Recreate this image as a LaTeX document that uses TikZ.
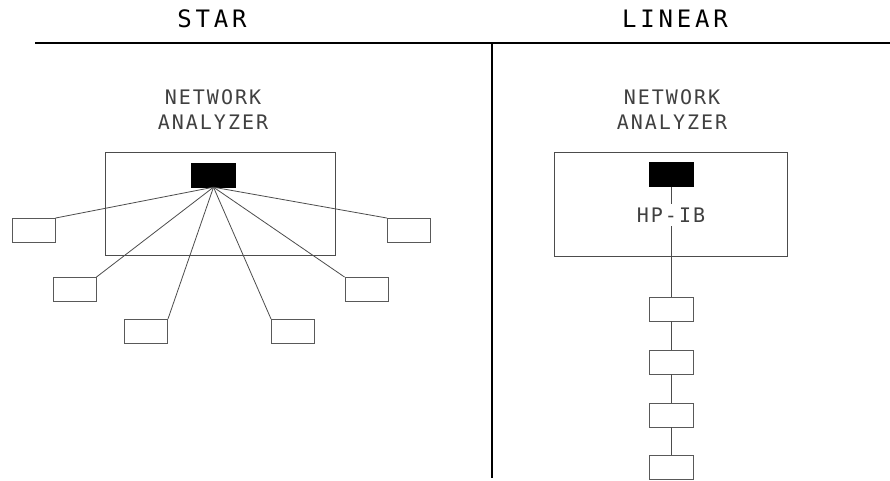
\documentclass[tikz,border=0pt]{standalone}
\usepackage{fontspec}
\usepackage{tikz}
\usetikzlibrary{positioning, calc}
\newfontfamily\plottitle{DejaVu Sans Mono}[LetterSpace=16]
\newfontfamily\plotlabel{DejaVu Sans Mono}[LetterSpace=10]
\tikzset{
    analyzer/.style={
        rectangle,
        draw=black!70,
        line width=0.9pt,
        minimum width=230pt,
        minimum height=103pt,
        inner sep=0pt
    },
    port/.style={
        rectangle,
        draw=black,
        fill=black,
        minimum width=44pt,
        minimum height=24pt,
        inner sep=0pt
    },
    device/.style={
        rectangle,
        draw=black!65,
        line width=0.9pt,
        minimum width=43pt,
        minimum height=24pt,
        inner sep=0pt
    },
    cable/.style={
        draw=black!70,
        line width=0.8pt
    },
    title/.style={
        font=\fontsize{24}{24}\plottitle,
        inner sep=0pt
    },
    caption/.style={
        font=\fontsize{20}{25}\plotlabel,
        text=black!75,
        align=center,
        inner sep=0pt
    },
    divider/.style={
        draw=black,
        line width=1.6pt
    }
}

\begin{document}
\begin{tikzpicture}[x=1pt, y=-1pt]
\useasboundingbox (0,0) rectangle (890,481);

% Headings and dividers
\node[title] (startitle) at (212,19) {STAR};
\node[title] (lintitle) at (675,19) {LINEAR};
\draw[divider] (35,43) -- (890,43);
\draw[divider] (492,43) -- (492,478);

% Star topology
\node[caption] (starlabel) at (213,110) {NETWORK\\ANALYZER};
\node[analyzer] (starbox) at (220,203.5) {};
\node[port] (starport) at (213.5,175) {};

\node[device] (dev1) at (33.5,230.5) {};
\node[device] (dev2) at (74.5,289.5) {};
\node[device] (dev3) at (146,331.5) {};
\node[device] (dev4) at (293,331.5) {};
\node[device] (dev5) at (366.5,289.5) {};
\node[device] (dev6) at (409,230.5) {};

\foreach \d/\c in {dev1/north east, dev2/north east, dev3/north east,
                   dev4/north west, dev5/north west, dev6/north west}
    \draw[cable] (starport.south) -- (\d.\c);

% Linear topology
\node[caption] (linlabel) at (672,110) {NETWORK\\ANALYZER};
\node[analyzer, minimum width=233pt, minimum height=104pt] (linbox) at (670.5,204) {};
\node[port] (linport) at (671,174.5) {};
\node[caption, inner sep=4pt] (hpib) at (671,215) {HP-IB};

\node[device, minimum width=44pt] (bus1) at (671,309) {};
\node[device, minimum width=44pt] (bus2) at (671,362) {};
\node[device, minimum width=44pt] (bus3) at (671,415) {};
\node[device, minimum width=44pt] (bus4) at (671,467.5) {};

\draw[cable] (linport) -- (hpib);
\draw[cable] (hpib) -- (bus1);
\foreach \a/\b in {bus1/bus2, bus2/bus3, bus3/bus4}
    \draw[cable] (\a) -- (\b);

\end{tikzpicture}
\end{document}
